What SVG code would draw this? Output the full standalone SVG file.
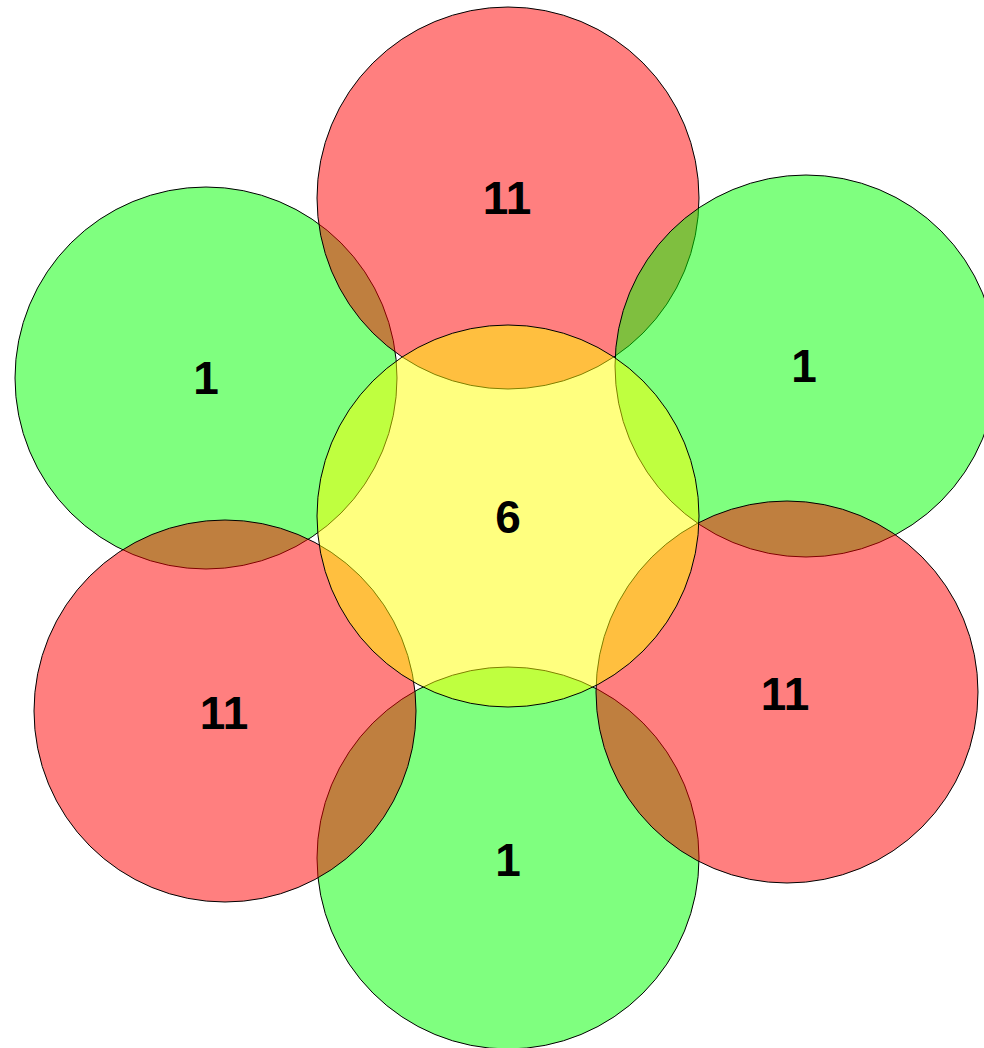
<svg xmlns="http://www.w3.org/2000/svg" width="984" height="1048" viewBox="0 0 984 1048">
<style>
circle{stroke:#000;stroke-width:1;fill-opacity:0.5}
.g{fill:#00ff00}
.r{fill:#ff0000}
.y{fill:#ffff00}
text{font-family:"Liberation Sans",Arial,sans-serif;font-weight:bold;font-size:46px;text-anchor:middle;fill:#000}
</style>
<rect width="984" height="1048" fill="#fff"/>
<g id="tl"><circle class="g" cx="206" cy="378" r="191"/><text x="206" y="394">1</text></g>
<g id="top"><circle class="r" cx="508" cy="198" r="191"/><text x="507" y="214">11</text></g>
<g id="tr"><circle class="g" cx="806" cy="366" r="191"/><text x="804" y="382">1</text></g>
<g id="bottom"><circle class="g" cx="508" cy="858" r="191"/><text x="508" y="876">1</text></g>
<g id="bl"><circle class="r" cx="225" cy="711" r="191"/><text x="224" y="729">11</text></g>
<g id="br"><circle class="r" cx="787" cy="692" r="191"/><text x="785" y="710">11</text></g>
<g id="center"><circle class="y" cx="508" cy="516" r="191"/><text x="508" y="533">6</text></g>
<g id="connectors"/>
</svg>
